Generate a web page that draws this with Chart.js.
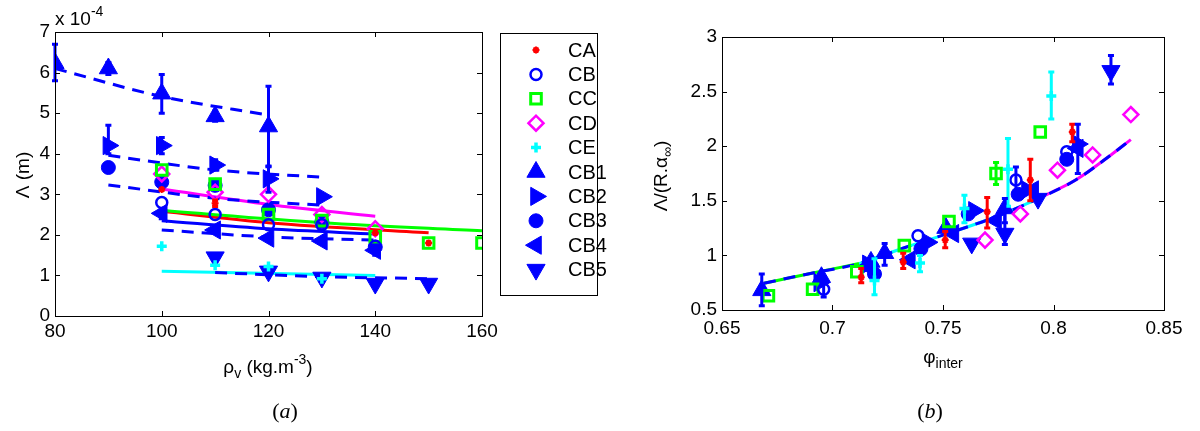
<!DOCTYPE html>
<html>
<head>
<meta charset="utf-8">
<script src="https://cdn.jsdelivr.net/npm/chart.js@4.4.1/dist/chart.umd.min.js"></script>
<style>
  body { margin: 0; background: #fff; }
  #wrap { position: relative; width: 1200px; height: 431px; }
  canvas { position: absolute; top: 0; }
</style>
</head>
<body>
<div id="wrap">
  <canvas id="chartA" width="610" height="431" style="left:0"></canvas>
  <canvas id="chartB" width="590" height="431" style="left:610px"></canvas>
</div>
<script>
// ---- panel (a): [rho_v, Lambda (x1e-4 m), errLow, errHigh]
const aCA  = [[100, 3.12], [110, 2.78, 2.7, 2.86], [140, 2.05], [150, 1.8]];
const aCB  = [[100, 2.8], [110, 2.5], [120, 2.25], [130, 2.25], [140, 1.72]];
const aCC  = [[100, 3.6], [110, 3.25], [120, 2.5], [130, 2.35], [140, 1.95], [150, 1.8], [160, 1.8]];
const aCD  = [[100, 3.5], [110, 3.05], [120, 3.0], [130, 2.5], [140, 2.15]];
const aCE  = [[100, 1.72], [110, 1.25], [120, 1.22], [130, 0.92]];
const aCB1 = [[80, 6.23, 5.8, 6.7], [90, 6.1, 5.95, 6.25], [100, 5.48, 5.0, 5.95], [110, 4.92, 4.8, 5.05], [120, 4.67, 3.68, 5.66]];
const aCB2 = [[90, 4.2, 4.0, 4.7], [100, 4.2, 4.0, 4.4], [110, 3.72, 3.6, 3.85], [120, 3.38, 3.05, 3.7], [130, 2.94]];
const aCB3 = [[90, 3.66, 3.55, 3.78], [100, 3.3], [110, 3.22], [120, 2.62], [130, 2.32], [140, 1.7]];
const aCB4 = [[100, 2.53, 2.4, 2.65], [110, 2.12], [120, 1.92], [130, 1.85], [140, 1.62, 1.5, 1.75]];
const aCB5 = [[110, 1.45], [120, 1.1], [130, 0.95], [140, 0.8], [150, 0.8]];

// fitted curves of panel (a)
const aFitCA  = [[100, 2.58], [120, 2.3], [150, 2.05]];
const aFitCB  = [[100, 2.35], [120, 2.15], [140, 2.02]];
const aFitCC  = [[100, 2.6], [130, 2.3], [160, 2.1]];
const aFitCD  = [[100, 3.13], [120, 2.75], [140, 2.46]];
const aFitCE  = [[100, 1.1], [140, 1.0]];
const aFitCB1 = [[80, 6.1], [100, 5.41], [120, 4.95]];
const aFitCB2 = [[90, 3.96], [110, 3.6], [130, 3.42]];
const aFitCB3 = [[90, 3.23], [110, 2.9], [130, 2.73]];
const aFitCB4 = [[100, 2.12], [120, 1.95], [140, 1.87]];
const aFitCB5 = [[110, 1.07], [130, 0.97], [150, 0.92]];

// ---- panel (b): [phi_inter, Lambda/(R.alpha_inf), errLow, errHigh]
const bCA  = [[0.713, 0.80, 0.75, 0.88], [0.732, 0.94, 0.88, 1.02], [0.751, 1.14, 1.07, 1.22], [0.770, 1.40, 1.25, 1.53], [0.7895, 1.69, 1.5, 1.88], [0.8085, 2.13, 2.04, 2.2]];
const bCB  = [[0.696, 0.69, 0.62, 0.75], [0.7387, 1.18], [0.783, 1.69, 1.55, 1.81], [0.806, 1.95]];
const bCC  = [[0.671, 0.63], [0.691, 0.69], [0.711, 0.85], [0.7325, 1.09], [0.7527, 1.31], [0.774, 1.75, 1.65, 1.85], [0.794, 2.13]];
const bCD  = [[0.769, 1.14], [0.785, 1.38], [0.8018, 1.78], [0.8177, 1.92], [0.835, 2.29]];
const bCE  = [[0.719, 0.77, 0.64, 0.97], [0.7396, 0.93, 0.85, 1.0], [0.7597, 1.43, 1.3, 1.55], [0.7794, 1.79, 1.45, 2.07], [0.799, 2.46, 2.25, 2.68]];
const bCB1 = [[0.668, 0.68, 0.54, 0.83], [0.695, 0.80], [0.7174, 0.94], [0.7236, 1.02, 0.91, 1.11], [0.7513, 1.25], [0.778, 1.43, 1.3, 1.52]];
const bCB2 = [[0.694, 0.75], [0.716, 0.92], [0.743, 1.12], [0.764, 1.41], [0.788, 1.6], [0.811, 2.02, 1.75, 2.2]];
const bCB3 = [[0.719, 0.83], [0.740, 1.06], [0.7614, 1.38], [0.784, 1.56], [0.806, 1.88]];
const bCB4 = [[0.716, 0.9], [0.735, 0.96], [0.7547, 1.2], [0.774, 1.32], [0.7908, 1.6], [0.811, 1.98]];
const bCB5 = [[0.763, 1.11], [0.778, 1.2, 1.1, 1.4], [0.793, 1.52], [0.826, 2.69, 2.57, 2.83]];

// common fit of panel (b)
const bFit = [[0.669, 0.745], [0.69, 0.835], [0.712, 0.925], [0.7325, 1.07], [0.752, 1.2], [0.774, 1.354], [0.795, 1.537], [0.81, 1.69], [0.826, 1.92], [0.835, 2.06]];

const xTicksA = [80, 100, 120, 140, 160];
const yTicksA = [0, 1, 2, 3, 4, 5, 6, 7];
const xTicksB = [0.65, 0.7, 0.75, 0.8, 0.85];
const yTicksB = [0.5, 1, 1.5, 2, 2.5, 3];

const BLUE = '#0000ff', RED = '#ff0000', GREEN = '#00ff00', MAGENTA = '#ff00ff', CYAN = '#00ffff';
const SANS = '"Liberation Sans", Arial, sans-serif';

const markers = {
  CA:  { color: RED,     style: 'star',     r: 3.5, bw: 2 },
  CB:  { color: BLUE,    style: 'circle',   r: 5.5, bw: 2.5 },
  CC:  { color: GREEN,   style: 'rect',     r: 7.5, bw: 3 },
  CD:  { color: MAGENTA, style: 'rectRot',  r: 7.5, bw: 2.5 },
  CE:  { color: CYAN,    style: 'cross',    r: 5,   bw: 3.5 },
  CB1: { color: BLUE, style: 'triangle', r: 10.5, bw: 1, fill: true },
  CB2: { color: BLUE, style: 'triangle', r: 10.5, bw: 1, fill: true, rot: 90 },
  CB3: { color: BLUE, style: 'circle',   r: 7,    bw: 1, fill: true },
  CB4: { color: BLUE, style: 'triangle', r: 10.5, bw: 1, fill: true, rot: 270 },
  CB5: { color: BLUE, style: 'triangle', r: 10.5, bw: 1, fill: true, rot: 180 }
};
const legendNames = ['CA', 'CB', 'CC', 'CD', 'CE', 'CB1', 'CB2', 'CB3', 'CB4', 'CB5'];

const pts = arr => arr.map(p => ({ x: p[0], y: p[1] }));

function markerSet(name, arr) {
  const m = markers[name];
  return {
    label: name, data: pts(arr), errs: arr, order: 1, showLine: false,
    pointStyle: m.style, pointRadius: m.r, pointRotation: m.rot || 0,
    pointBorderWidth: m.bw, pointBorderColor: m.color, borderColor: m.color,
    pointBackgroundColor: m.fill ? m.color : 'rgba(0,0,0,0)'
  };
}

function fitSet(arr, color, dashed, order) {
  return {
    label: '', data: pts(arr), order: order || 2, showLine: true,
    borderColor: color, borderWidth: 3, borderDash: dashed ? [12, 8] : [],
    pointRadius: 0, cubicInterpolationMode: 'monotone'
  };
}

// text with sub/superscripts: parts = [[text, kind]]
function fontFor(k) {
  if (k === 'sub' || k === 'sup') return '14px ' + SANS;
  if (k === 'serif') return '22px "Liberation Serif", serif';
  if (k === 'serifit') return 'italic 22px "Liberation Serif", serif';
  return '19px ' + SANS;
}
function drawRich(ctx, parts, x, y, align) {
  let w = 0;
  parts.forEach(([t, k]) => { ctx.font = fontFor(k); w += ctx.measureText(t).width; });
  let cx = align === 'center' ? x - w / 2 : x;
  parts.forEach(([t, k]) => {
    ctx.font = fontFor(k);
    const dy = k === 'sub' ? 5 : k === 'sup' ? -9 : 0;
    ctx.fillText(t, cx, y + dy);
    cx += ctx.measureText(t).width;
  });
}

const errorBars = {
  id: 'errorBars',
  afterDatasetsDraw(chart) {
    const { ctx, scales: { x, y } } = chart;
    chart.data.datasets.forEach(ds => {
      if (!ds.errs) return;
      ctx.save();
      ctx.strokeStyle = ds.borderColor;
      ctx.lineWidth = 3;
      ds.errs.forEach(p => {
        if (p.length < 4) return;
        const px = x.getPixelForValue(p[0]);
        const lo = y.getPixelForValue(p[2]), hi = y.getPixelForValue(p[3]);
        ctx.beginPath();
        ctx.moveTo(px, lo); ctx.lineTo(px, hi);
        ctx.moveTo(px - 3, lo); ctx.lineTo(px + 3, lo);
        ctx.moveTo(px - 3, hi); ctx.lineTo(px + 3, hi);
        ctx.stroke();
      });
      ctx.restore();
    });
  }
};

function makeFrame(texts, legend) {
  return {
    id: 'frame',
    afterDraw(chart) {
      const { ctx, chartArea: a, scales: { x, y } } = chart;
      ctx.save();
      ctx.strokeStyle = '#000';
      ctx.lineWidth = 1;
      ctx.strokeRect(Math.round(a.left) + 0.5, Math.round(a.top) + 0.5, Math.round(a.right - a.left), Math.round(a.bottom - a.top));
      ctx.beginPath();
      x.ticks.forEach(t => {
        const px = Math.round(x.getPixelForValue(t.value)) + 0.5;
        ctx.moveTo(px, a.bottom); ctx.lineTo(px, a.bottom - 5);
        ctx.moveTo(px, a.top); ctx.lineTo(px, a.top + 5);
      });
      y.ticks.forEach(t => {
        const py = Math.round(y.getPixelForValue(t.value)) + 0.5;
        ctx.moveTo(a.left, py); ctx.lineTo(a.left + 5, py);
        ctx.moveTo(a.right, py); ctx.lineTo(a.right - 5, py);
      });
      ctx.stroke();

      ctx.fillStyle = '#000';
      ctx.textBaseline = 'alphabetic';
      texts.forEach(tx => {
        ctx.save();
        ctx.translate(tx.x, tx.y);
        if (tx.rot) ctx.rotate(tx.rot);
        drawRich(ctx, tx.parts, 0, 0, tx.align);
        ctx.restore();
      });

      if (legend) {
        ctx.strokeStyle = '#000';
        ctx.lineWidth = 1;
        ctx.strokeRect(500.5, 33.5, 97, 262);
        legendNames.forEach((name, i) => {
          const m = markers[name];
          const yy = 50 + i * 24.4;
          ctx.fillStyle = m.fill ? m.color : 'rgba(0,0,0,0)';
          ctx.strokeStyle = m.color;
          ctx.lineWidth = m.bw;
          if (Chart.helpers && Chart.helpers.drawPoint) {
            Chart.helpers.drawPoint(ctx, { pointStyle: m.style, rotation: m.rot || 0, radius: m.r, borderWidth: m.bw }, 536, yy);
          }
          ctx.fillStyle = '#000';
          ctx.textBaseline = 'middle';
          ctx.font = '20px ' + SANS;
          ctx.fillText(name, 568, yy + 1);
        });
      }
      ctx.restore();
    }
  };
}

function axis(min, max, step, pad, size, isX, fmt) {
  return {
    type: 'linear', min, max,
    ticks: {
      stepSize: step, padding: pad, color: '#000', autoSkip: false, maxRotation: 0,
      font: { family: SANS, size: 19 },
      callback: v => fmt ? String(+v.toFixed(2)) : String(v)
    },
    grid: { display: false, drawTicks: false },
    border: { display: false },
    afterFit: s => { if (isX) s.height = size; else s.width = size; }
  };
}

const commonOpts = {
  responsive: false, animation: false,
  plugins: { legend: { display: false }, tooltip: { enabled: false } }
};

new Chart(document.getElementById('chartA'), {
  type: 'scatter',
  data: {
    datasets: [
      markerSet('CA', aCA), markerSet('CB', aCB), markerSet('CC', aCC), markerSet('CD', aCD), markerSet('CE', aCE),
      markerSet('CB1', aCB1), markerSet('CB2', aCB2), markerSet('CB3', aCB3), markerSet('CB4', aCB4), markerSet('CB5', aCB5),
      fitSet(aFitCB1, BLUE, true), fitSet(aFitCB2, BLUE, true), fitSet(aFitCB3, BLUE, true),
      fitSet(aFitCB4, BLUE, true), fitSet(aFitCB5, BLUE, true),
      fitSet(aFitCD, MAGENTA), fitSet(aFitCC, GREEN), fitSet(aFitCA, RED), fitSet(aFitCB, BLUE), fitSet(aFitCE, CYAN)
    ]
  },
  options: Object.assign({}, commonOpts, {
    layout: { padding: { left: 0, top: 32, right: 128, bottom: 0 } },
    scales: {
      x: axis(xTicksA[0], xTicksA[xTicksA.length - 1], 20, 4, 115, true),
      y: axis(yTicksA[0], yTicksA[yTicksA.length - 1], 1, 5, 55, false)
    }
  }),
  plugins: [errorBars, makeFrame([
    { x: 268, y: 373, align: 'center', parts: [['ρ', ''], ['v', 'sub'], [' (kg.m', ''], ['-3', 'sup'], [')', '']] },
    { x: 29, y: 175, rot: -Math.PI / 2, align: 'center', parts: [['Λ (m)', '']] },
    { x: 55, y: 25, parts: [['x 10', ''], ['-4', 'sup']] },
    { x: 285, y: 418, align: 'center', parts: [['(', 'serif'], ['a', 'serifit'], [')', 'serif']] }
  ], true)]
});

new Chart(document.getElementById('chartB'), {
  type: 'scatter',
  data: {
    datasets: [
      markerSet('CA', bCA), markerSet('CB', bCB), markerSet('CC', bCC), markerSet('CD', bCD), markerSet('CE', bCE),
      markerSet('CB1', bCB1), markerSet('CB2', bCB2), markerSet('CB3', bCB3), markerSet('CB4', bCB4), markerSet('CB5', bCB5),
      fitSet(bFit, BLUE, true, 2),
      fitSet(bFit.slice(0, 3), GREEN, false, 3),
      fitSet(bFit.slice(2, 7), CYAN, false, 3),
      fitSet(bFit.slice(6), MAGENTA, false, 3)
    ]
  },
  options: Object.assign({}, commonOpts, {
    layout: { padding: { left: 0, top: 37, right: 36, bottom: 0 } },
    scales: {
      x: axis(xTicksB[0], xTicksB[xTicksB.length - 1], 0.05, 7, 121, true, true),
      y: axis(yTicksB[0], yTicksB[yTicksB.length - 1], 0.5, 5, 112, false, true)
    }
  }),
  plugins: [errorBars, makeFrame([
    { x: 333, y: 363, align: 'center', parts: [['φ', ''], ['inter', 'sub']] },
    { x: 57, y: 176, rot: -Math.PI / 2, align: 'center', parts: [['Λ/(R.α', ''], ['∞', 'sub'], [')', '']] },
    { x: 320, y: 418, align: 'center', parts: [['(', 'serif'], ['b', 'serifit'], [')', 'serif']] }
  ], false)]
});
</script>
</body>
</html>
